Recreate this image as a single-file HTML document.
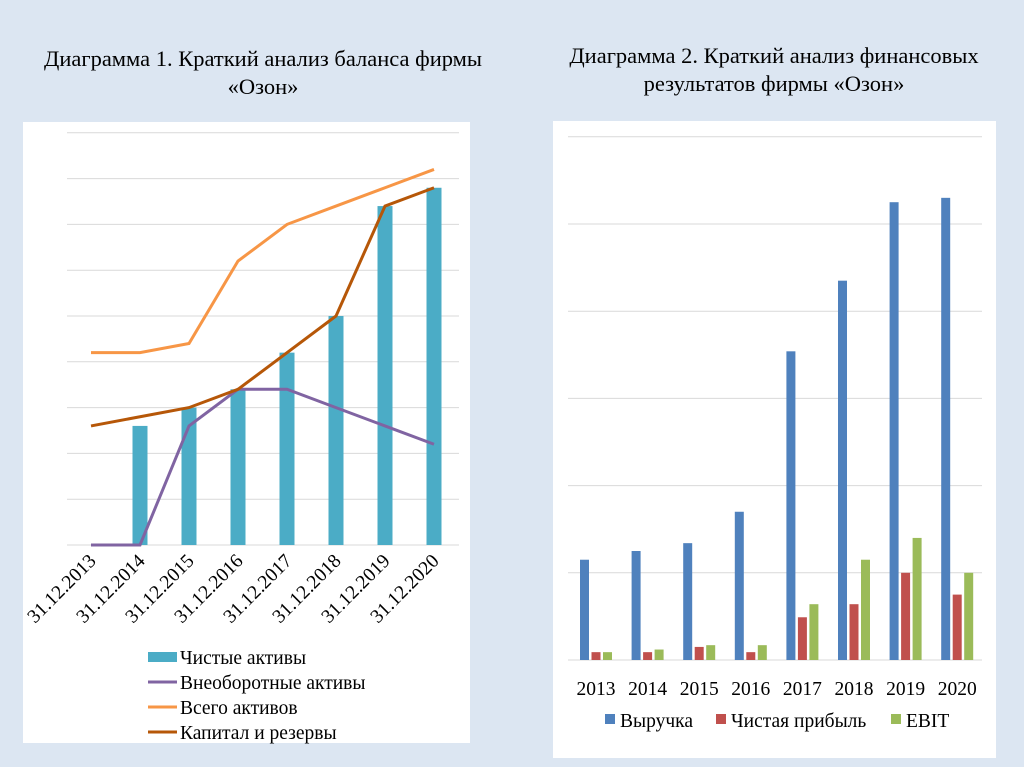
<!DOCTYPE html>
<html><head><meta charset="utf-8"><style>
body{margin:0;width:1024px;height:767px;background:#dce6f2;overflow:hidden;font-family:"Liberation Serif",serif}
svg{position:absolute;left:0;top:0;font-family:"Liberation Serif",serif}
</style></head><body>
<svg width="1024" height="767" id="s">
<rect x="23" y="122" width="447" height="621" fill="#fff"/>
<rect x="553" y="121" width="443" height="637" fill="#fff"/>
<text x="263" y="66" font-size="22.5" text-anchor="middle">Диаграмма 1. Краткий анализ баланса фирмы</text>
<text x="263" y="94" font-size="22.5" text-anchor="middle">«Озон»</text>
<text x="774" y="63" font-size="22.5" text-anchor="middle">Диаграмма 2. Краткий анализ финансовых</text>
<text x="774" y="91" font-size="22.5" text-anchor="middle">результатов фирмы «Озон»</text>
<g id="c1"></g><g id="c2"></g>
</svg>
<script>
const dates=["31.12.2013","31.12.2014","31.12.2015","31.12.2016","31.12.2017","31.12.2018","31.12.2019","31.12.2020"];
const netAssets=[0,2.6,3.0,3.4,4.2,5.0,7.4,7.8];
const nonCurrent=[0,0,2.6,3.4,3.4,3.0,2.6,2.2];
const totalAssets=[4.2,4.2,4.4,6.2,7.0,7.4,7.8,8.2];
const capital=[2.6,2.8,3.0,3.4,4.2,5.0,7.4,7.8];
const years=["2013","2014","2015","2016","2017","2018","2019","2020"];
const revenue=[1.15,1.25,1.34,1.70,3.54,4.35,5.25,5.30];
const profit=[0.09,0.09,0.15,0.09,0.49,0.64,1.0,0.75];
const ebit=[0.09,0.12,0.17,0.17,0.64,1.15,1.4,1.0];
const NS='http://www.w3.org/2000/svg';
function mk(p,t,a,txt){const e=document.createElementNS(NS,t);for(const k in a)e.setAttribute(k,a[k]);if(txt!==undefined)e.textContent=txt;p.appendChild(e);return e;}
const g1=document.getElementById('c1');
const x1=i=>91+i*49, y1=v=>545-v*45.8;
for(let k=0;k<=9;k++){const l=mk(g1,'line',{x1:67,x2:459,y1:y1(k),y2:y1(k),stroke:'#d9d9d9','stroke-width':1});

}
netAssets.forEach((v,i)=>{const r=mk(g1,'rect',{x:x1(i)-7.5,y:y1(v),width:15,height:v*45.8,fill:'#4bacc6'});

});
[[nonCurrent,'#8064a2','line-non-current-assets'],[totalAssets,'#f79646','line-total-assets'],[capital,'#b65708','line-capital-reserves']].forEach(([d,c,n])=>{
const p=mk(g1,'polyline',{points:d.map((v,i)=>x1(i)+','+y1(v)).join(' '),fill:'none',stroke:c,'stroke-width':3});

});
dates.forEach((d,i)=>{const t=mk(g1,'text',{x:x1(i)+6,y:562,'font-size':19.5,'text-anchor':'end',transform:`rotate(-45 ${x1(i)+6} 562)`},d);

});
const leg1=[['Чистые активы','#4bacc6',1],['Внеоборотные активы','#8064a2',0],['Всего активов','#f79646',0],['Капитал и резервы','#b65708',0]];
leg1.forEach(([n,c,b],i)=>{const y=657+i*25;
const s=b?mk(g1,'rect',{x:148,y:y-5,width:29,height:10,fill:c}):mk(g1,'line',{x1:148,x2:177,y1:y,y2:y,stroke:c,'stroke-width':3});


const t=mk(g1,'text',{x:180,y:y+7,'font-size':19.5},n);

});
const g2=document.getElementById('c2');
const x2=i=>596+i*51.6, y2=v=>660-v*87.2;
for(let k=0;k<=6;k++){const l=mk(g2,'line',{x1:568,x2:982,y1:y2(k),y2:y2(k),stroke:'#d9d9d9','stroke-width':1});

}
[[revenue,'#4f81bd',-11.5,'bar-revenue'],[profit,'#c0504d',0,'bar-net-profit'],[ebit,'#9bbb59',11.5,'bar-ebit']].forEach(([d,c,o,n])=>{
d.forEach((v,i)=>{const r=mk(g2,'rect',{x:x2(i)+o-4.5,y:y2(v),width:9,height:v*87.2,fill:c});

});});
years.forEach((y,i)=>{const t=mk(g2,'text',{x:x2(i),y:695,'font-size':19.5,'text-anchor':'middle'},y);

});
[['Выручка','#4f81bd',605],['Чистая прибыль','#c0504d',716],['EBIT','#9bbb59',891]].forEach(([n,c,x])=>{
const s=mk(g2,'rect',{x:x,y:714,width:10,height:10,fill:c});


const t=mk(g2,'text',{x:x+15,y:727,'font-size':19.5},n);

});
</script>
</body></html>
